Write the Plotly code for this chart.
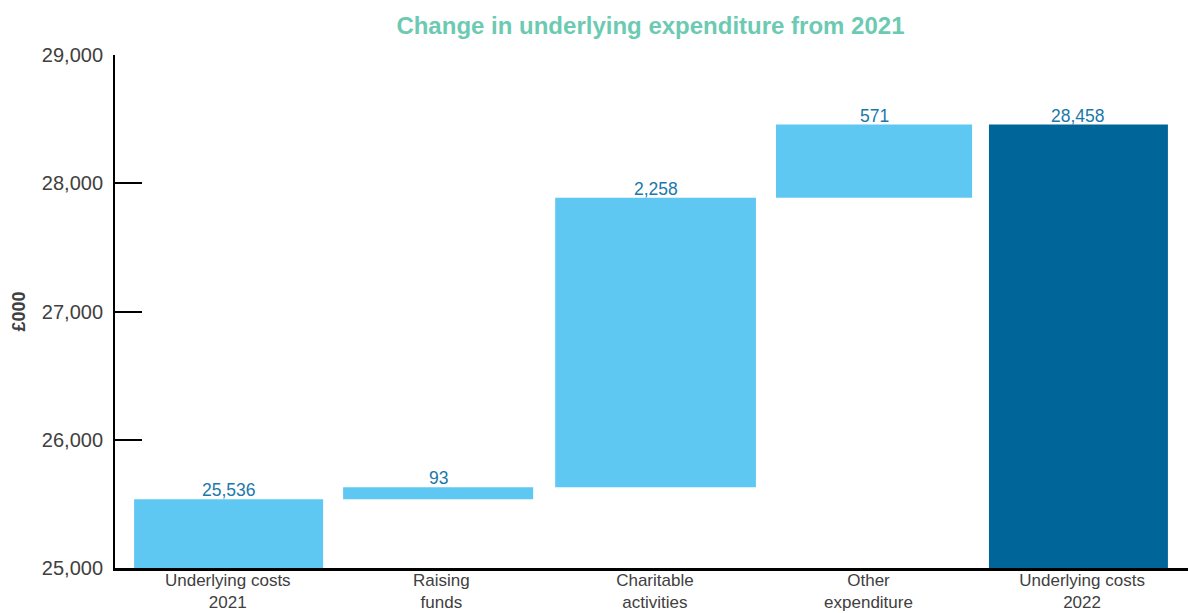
import plotly.graph_objects as go

categories = ["Underlying costs<br>2021", "Raising<br>funds", "Charitable<br>activities",
              "Other<br>expenditure", "Underlying costs<br>2022"]
changes = [25536, 93, 2258, 571]          # start value then increments
total_2022 = 28458
labels = ["25,536", "93", "2,258", "571", "28,458"]
y_ticks = [25000, 26000, 27000, 28000, 29000]

# compute bases / heights for waterfall
bases, heights = [], []
running = 0
for i, v in enumerate(changes):
    bases.append(0 if i == 0 else running)
    heights.append(v)
    running += v
bases.append(0)
heights.append(total_2022)
tops = [b + h for b, h in zip(bases, heights)]

light = "#5EC8F2"
dark = "#006598"
colors = [light, light, light, light, dark]

# bar styling (widths / offsets in category units)
bar_w = [0.885, 0.89, 0.94, 0.918, 0.838]
bar_shift = [0.004, -0.015, 0.003, 0.026, -0.017]
offsets = [-w / 2 + s for w, s in zip(bar_w, bar_shift)]

fig = go.Figure(go.Bar(
    x=categories, y=heights, base=bases,
    width=bar_w, offset=offsets,
    marker=dict(color=colors, line=dict(width=0)),
    hoverinfo="skip",
))

for cat, top, lab, s in zip(categories, tops, labels, bar_shift):
    fig.add_annotation(x=cat, y=top, text=lab, showarrow=False,
                       xanchor="center", yanchor="bottom", yshift=-3,
                       xshift=s * 213.6,
                       font=dict(color="#1B78AA", size=17.5,
                                 family="Liberation Sans, Arial"))

fig.update_layout(
    width=1188, height=613,
    margin=dict(l=115, r=0, t=55, b=45),
    paper_bgcolor="white", plot_bgcolor="white",
    showlegend=False,
    font=dict(family="Liberation Sans, Arial", color="#404040"),
    title=dict(text="<b>Change in underlying expenditure from 2021</b>",
               x=0.5475, xanchor="center", y=0.958, yanchor="middle",
               font=dict(size=24, color="#6CCAB2")),
)
fig.update_xaxes(
    range=[-0.528, 4.496], automargin=False,
    showline=True, linecolor="black", linewidth=2.5, ticks="",
    tickfont=dict(size=17, color="#404040"), showgrid=False,
    ticklabelstandoff=-5,
)
fig.update_yaxes(
    range=[25000, 29000], tickvals=y_ticks, tickformat=",d", automargin=False,
    showline=True, linecolor="black", linewidth=2, ticks="inside",
    ticklen=27, tickwidth=2, tickcolor="black",
    tickfont=dict(size=20, color="#404040"), showgrid=False, zeroline=False,
    ticklabelstandoff=6,
)
fig.add_annotation(text="<b>£000</b>", xref="paper", yref="paper",
                   x=-0.0904, y=0.5, textangle=-90, showarrow=False,
                   xanchor="center", yanchor="middle",
                   font=dict(size=18, color="#404040"))
fig.write_html("out.html")
